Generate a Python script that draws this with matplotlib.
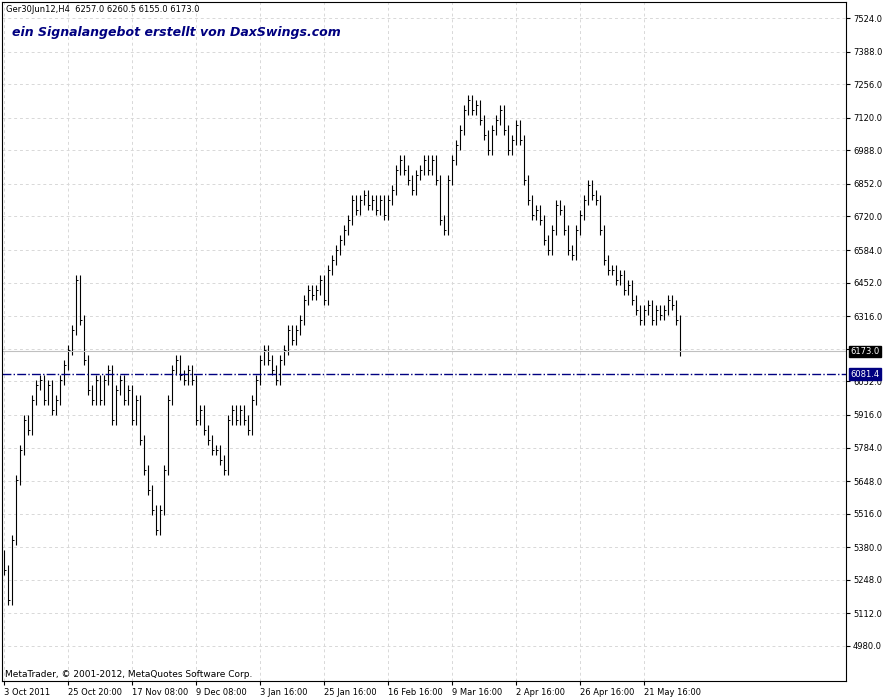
import matplotlib.pyplot as plt
from matplotlib.ticker import FixedLocator

# closes (H4 bars, roughly one per 4 px)
closes = [5288, 5167, 5410, 5653, 5775, 5896, 5856, 5977, 6038, 6058, 5977, 6038, 5937, 5977, 6058,
          6119, 6180, 6261, 6463, 6301, 6139, 6018, 5977, 6058, 5977, 6058, 6099, 5896, 6018, 6058,
          5977, 6018, 5896, 5977, 5815, 5694, 5613, 5532, 5451, 5532, 5694, 5977, 6099, 6139, 6078,
          6058, 6099, 6058, 5896, 5937, 5856, 5815, 5775, 5775, 5734, 5694, 5896, 5937, 5896, 5937,
          5896, 5856, 5977, 6058, 6139, 6180, 6139, 6099, 6058, 6139, 6180, 6261, 6220, 6261, 6301,
          6382, 6423, 6402, 6423, 6463, 6382, 6504, 6544, 6585, 6625, 6666, 6706, 6787, 6747, 6787,
          6807, 6767, 6787, 6747, 6787, 6726, 6787, 6828, 6909, 6949, 6909, 6868, 6828, 6888, 6909,
          6949, 6909, 6949, 6868, 6706, 6666, 6868, 6949, 7010, 7071, 7152, 7192, 7152, 7172, 7111,
          7050, 6990, 7071, 7111, 7152, 7071, 6990, 7030, 7091, 7030, 6868, 6787, 6726, 6747, 6706,
          6625, 6585, 6666, 6767, 6747, 6666, 6585, 6564, 6666, 6726, 6787, 6848, 6807, 6787, 6666,
          6544, 6504, 6504, 6463, 6483, 6423, 6443, 6382, 6342, 6301, 6342, 6362, 6301, 6342, 6321,
          6342, 6382, 6362, 6301, 6173]
date_labels = ["3 Oct 2011", "25 Oct 20:00", "17 Nov 08:00", "9 Dec 08:00", "3 Jan 16:00",
               "25 Jan 16:00", "16 Feb 16:00", "9 Mar 16:00", "2 Apr 16:00", "26 Apr 16:00",
               "21 May 16:00"]
price_ticks = [4980, 5112, 5248, 5380, 5516, 5648, 5784, 5916, 6052, 6184, 6316, 6452, 6584,
               6720, 6852, 6988, 7120, 7256, 7388, 7524]
bid = 6173.0
level = 6081.4

fig = plt.figure(figsize=(8.86, 6.99), dpi=100)
ax = fig.add_axes([2 / 886, 18 / 699, 844 / 886, 679 / 699])
ax.set_xlim(-0.5, 210.5)
ax.set_ylim(4838, 7589)

for i, c in enumerate(closes):
    prev = closes[i - 1] if i > 0 else c + 60
    lo, hi = min(prev, c) - 20, max(prev, c) + 20
    ax.vlines(i, lo, hi, color='black', lw=0.8)
    ax.hlines(c, i, i + 0.4, color='black', lw=0.7)

ax.axhline(bid, color='#c0c0c0', lw=0.8)
ax.axhline(level, color='#000080', lw=1, ls='-.')

ax.grid(True, color='#d8d8d8', ls=(0, (3, 3)), lw=0.7)
ax.xaxis.set_major_locator(FixedLocator([16 * k for k in range(len(date_labels))]))
ax.set_xticklabels(date_labels)
ax.yaxis.set_major_locator(FixedLocator(price_ticks))
ax.yaxis.tick_right()
# the bid box covers the 6184 label in the terminal
ax.set_yticklabels(["" if v == 6184 else f"{v:.1f}" for v in price_ticks])
ax.tick_params(labelsize=6, length=3, pad=2, color='black')
for lbl in ax.get_xticklabels():
    lbl.set_horizontalalignment('left')

ax.annotate(f"{bid:.1f}", xy=(1, bid), xycoords=('axes fraction', 'data'), xytext=(3, 0),
            textcoords='offset points', va='center', fontsize=6, color='white',
            bbox=dict(boxstyle='square,pad=0.15', fc='black', ec='black'))
ax.annotate(f"{level:.1f}", xy=(1, level), xycoords=('axes fraction', 'data'), xytext=(3, 0),
            textcoords='offset points', va='center', fontsize=6, color='white',
            bbox=dict(boxstyle='square,pad=0.15', fc='#000080', ec='#000080'))

ax.text(0.005, 0.995, "Ger30Jun12,H4  6257.0 6260.5 6155.0 6173.0", transform=ax.transAxes,
        fontsize=6, va='top')
ax.text(0.012, 0.965, "ein Signalangebot erstellt von DaxSwings.com", transform=ax.transAxes,
        fontsize=9, color='#000080', style='italic', weight='bold', va='top')
ax.text(0.003, 0.003, "MetaTrader, © 2001-2012, MetaQuotes Software Corp.", transform=ax.transAxes,
        fontsize=6.5, va='bottom')

fig.savefig('out.png', dpi=100)
